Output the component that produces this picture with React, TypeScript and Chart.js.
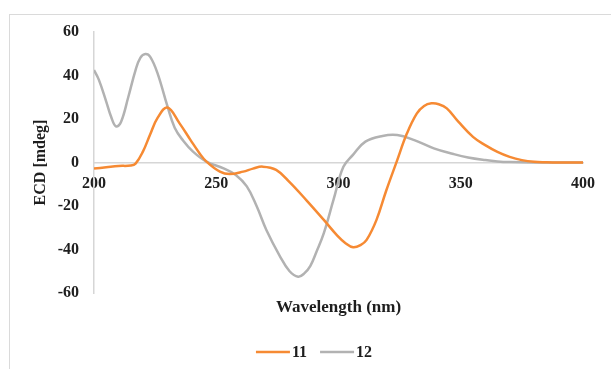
import React, { useEffect, useRef } from 'react';
import { Chart, registerables } from 'chart.js';

Chart.register(...registerables);

// ---- Data ----
const seriesLabels = ['11', '12'];

const wavelength11 = [200, 205, 210, 215, 217, 220, 223, 226, 230, 235, 239.5, 243, 246, 251.5, 255.5, 261, 265, 269, 274.5, 280, 287, 294, 299.5, 303, 306, 309, 311.5, 315.5, 319.5, 323.8, 328, 332, 335, 338, 341, 344.3, 349, 355, 360, 365, 370, 375, 380, 385, 390, 400];
const ecd11 = [-2.8, -2.2, -1.6, -1.4, -0.5, 5, 13, 20.5, 25.3, 18, 10.3, 4.5, 0.4, -4.2, -5.3, -4.2, -2.8, -1.9, -3.4, -9, -17.5, -26.4, -33.6, -37.2, -39, -38, -35.6, -26.5, -13, 0.4, 13.4, 22.5, 26, 27.2, 26.8, 24.9, 18.8, 11.8, 8, 4.9, 2.6, 1.1, 0.3, 0.1, 0, 0];

const wavelength12 = [200, 202, 205, 207, 209, 211, 214, 217, 219, 221, 223, 226, 230, 233, 236.5, 240.5, 246, 253, 258, 262.5, 266.5, 270.5, 276, 280, 283.5, 286, 288.5, 291, 294, 298, 302, 306, 311, 318, 324, 331, 339, 347, 353, 360, 365, 370, 380, 400];
const ecd12 = [42.5, 38, 28, 21, 16.6, 18.5, 30, 42.5, 48.2, 49.9, 48.6, 41, 26, 16, 10, 5, 0.4, -2.7, -5.7, -11, -20, -31, -43, -50, -52.5, -51, -47.5, -41, -32.5, -17, -2, 3.6, 9.6, 12.2, 12.6, 10.3, 6.5, 3.9, 2.3, 1.1, 0.5, 0.2, 0, 0];

const xRange = [200, 400];
const xStep = 50;
const yRange = [-60, 60];
const yStep = 20;
const xTitle = 'Wavelength (nm)';
const yTitle = 'ECD [mdeg]';

// ---- Styles ----
const ORANGE = '#F68A33';
const GRAY = '#B2B2B2';
const AXIS = '#D6D6D6';
const TEXT = '#1E1E1E';
const FONT = '"Liberation Serif", "Times New Roman", serif';

const bottomTextPlugin = {
  id: 'bottomText',
  afterDraw(chart: any) {
    const ctx = chart.ctx;
    const ca = chart.chartArea;
    ctx.save();
    ctx.fillStyle = TEXT;
    ctx.font = `bold 17px ${FONT}`;
    ctx.textAlign = 'center';
    ctx.textBaseline = 'middle';
    ctx.fillText(xTitle, (ca.left + ca.right) / 2, 308);

    ctx.font = `bold 16px ${FONT}`;
    ctx.textAlign = 'left';
    const lineLen = 34;
    const gap = 2;
    const itemGap = 13;
    const items = chart.data.datasets.map((ds: any) => ({
      label: ds.label,
      color: ds.borderColor,
      w: ctx.measureText(ds.label).width,
    }));
    const total =
      items.reduce((s: number, it: any) => s + lineLen + gap + it.w, 0) +
      itemGap * (items.length - 1);
    let x = 314 - total / 2;
    const y = 352;
    items.forEach((it: any) => {
      ctx.strokeStyle = it.color;
      ctx.lineWidth = 2.5;
      ctx.beginPath();
      ctx.moveTo(x, y);
      ctx.lineTo(x + lineLen, y);
      ctx.stroke();
      x += lineLen + gap;
      ctx.fillText(it.label, x, y + 1);
      x += it.w + itemGap;
    });
    ctx.restore();
  },
};

export default function App() {
  const canvasRef = useRef<HTMLCanvasElement | null>(null);

  useEffect(() => {
    const canvas = canvasRef.current;
    if (!canvas) return;
    const toPoints = (xs: number[], ys: number[]) => xs.map((x, i) => ({ x, y: ys[i] }));
    const chart = new Chart(canvas, {
      type: 'line',
      data: {
        datasets: [
          {
            label: seriesLabels[0],
            data: toPoints(wavelength11, ecd11),
            borderColor: ORANGE,
            backgroundColor: ORANGE,
            borderWidth: 2.5,
            pointRadius: 0,
            tension: 0.4,
            fill: false,
          },
          {
            label: seriesLabels[1],
            data: toPoints(wavelength12, ecd12),
            borderColor: GRAY,
            backgroundColor: GRAY,
            borderWidth: 2.5,
            pointRadius: 0,
            tension: 0.4,
            fill: false,
          },
        ],
      },
      options: {
        responsive: false,
        animation: false,
        devicePixelRatio: 1,
        layout: { padding: { left: 0, top: 32, right: 28, bottom: 76 } },
        plugins: {
          legend: { display: false },
          tooltip: { enabled: false },
        },
        scales: {
          x: {
            type: 'linear',
            position: { y: 0 } as any,
            min: xRange[0],
            max: xRange[1],
            grid: { display: false, drawTicks: false },
            border: { display: true, color: AXIS, width: 1.5 },
            ticks: {
              stepSize: xStep,
              padding: 12,
              color: TEXT,
              font: { family: FONT, size: 16, weight: 'bold' },
              maxRotation: 0,
            },
          },
          y: {
            type: 'linear',
            position: 'left',
            min: yRange[0],
            max: yRange[1],
            grid: { display: false, drawTicks: false },
            border: { display: true, color: AXIS, width: 1.5 },
            ticks: {
              stepSize: yStep,
              padding: 15,
              color: TEXT,
              font: { family: FONT, size: 16, weight: 'bold' },
            },
            title: {
              display: true,
              text: yTitle,
              color: TEXT,
              font: { family: FONT, size: 16, weight: 'bold' },
              padding: { top: 31, bottom: 0 },
            },
            afterFit: (scale: any) => {
              scale.width = 94;
            },
          },
        },
      },
      plugins: [bottomTextPlugin],
    } as any);
    return () => chart.destroy();
  }, []);

  return (
    <div
      style={{
        position: 'fixed',
        left: 0,
        top: 0,
        width: 611,
        height: 369,
        overflow: 'hidden',
        background: '#fff',
      }}
    >
      <div
        style={{
          position: 'absolute',
          left: 9,
          top: 14,
          width: 700,
          height: 400,
          border: '1px solid #DADADA',
        }}
      />
      <canvas
        ref={canvasRef}
        width={611}
        height={369}
        style={{ position: 'absolute', left: 0, top: 0, width: 611, height: 369 }}
      />
    </div>
  );
}
